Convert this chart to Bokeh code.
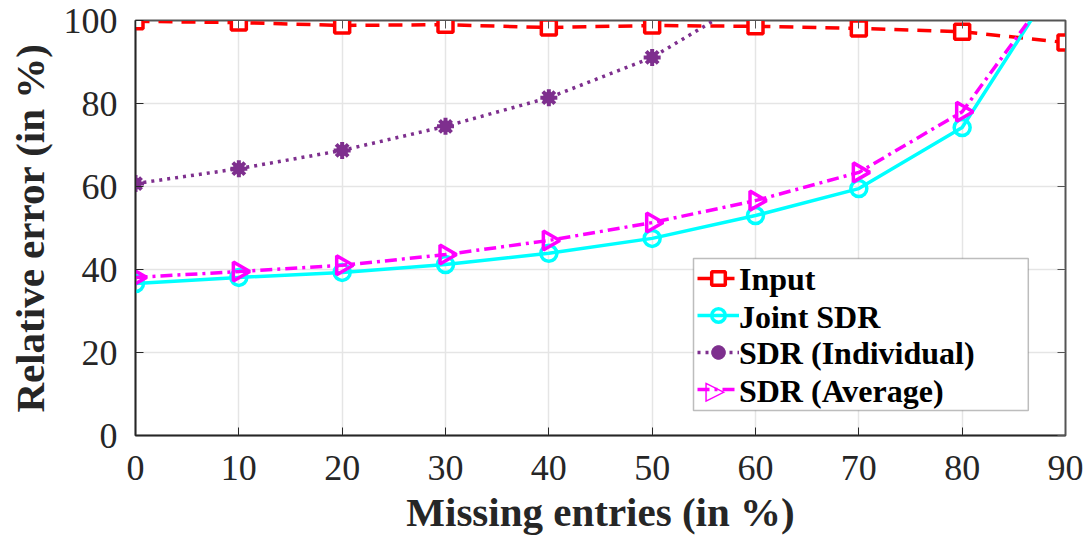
import numpy as np
from bokeh.plotting import figure
from bokeh.models import LinearAxis, Range1d, FixedTicker, Legend, LegendItem, BoxAnnotation
from bokeh.core.properties import value
from bokeh.embed import file_html
from bokeh.resources import INLINE

missing = [0, 10, 20, 30, 40, 50, 60, 70, 80, 90]
input_err = [99.8, 99.5, 98.8, 99.0, 98.3, 98.8, 98.6, 98.1, 97.3, 94.7]
joint_sdr = [36.6, 38.1, 39.3, 41.2, 43.9, 47.5, 53.0, 59.5, 74.2, 113.0]
sdr_ind_x = [0, 10, 20, 30, 40, 50, 60]
sdr_ind = [60.7, 64.3, 68.7, 74.5, 81.4, 91.1, 106.0]
sdr_avg = [38.1, 39.5, 41.0, 43.6, 47.0, 51.3, 56.6, 63.4, 78.0, 112.0]
series_names = ["Input", "Joint SDR", "SDR (Individual)", "SDR (Average)"]

xticks = [0, 10, 20, 30, 40, 50, 60, 70, 80, 90]
yticks = [0, 20, 40, 60, 80, 100]

FONT = "Liberation Serif"

p = figure(width=1083, height=539, output_backend="svg", toolbar_location=None,
           x_range=Range1d(0, 90), y_range=Range1d(0, 100),
           min_border_left=135, min_border_right=18, min_border_top=20, min_border_bottom=104)
p.outline_line_color = "#555555"
p.outline_line_width = 2
p.background_fill_color = "white"
p.border_fill_color = "white"

for ax, ticks in ((p.xaxis[0], xticks), (p.yaxis[0], yticks)):
    ax.ticker = FixedTicker(ticks=ticks)
    ax.major_tick_in = 8
    ax.major_tick_out = 0
    ax.minor_tick_in = 0
    ax.minor_tick_out = 0
    ax.axis_line_color = "#262626"
    ax.axis_line_width = 1.5
    ax.major_tick_line_color = "#262626"
    ax.major_label_text_font = FONT
    ax.major_label_text_font_size = "36px"
    ax.major_label_text_color = "#262626"
    ax.axis_label_text_font = FONT
    ax.axis_label_text_font_size = "41px"
    ax.axis_label_text_font_style = "bold"
    ax.axis_label_text_color = "#262626"

p.xaxis.axis_label = "Missing entries (in %)"
p.yaxis.axis_label = "Relative error (in %)"
p.xaxis.major_label_standoff = 20
p.yaxis.major_label_standoff = 18
p.xaxis.axis_label_standoff = 6
p.yaxis.axis_label_standoff = 8

for loc, ticks in (("right", yticks), ("above", xticks)):
    a = LinearAxis(ticker=FixedTicker(ticks=ticks), major_label_text_font_size="0px",
                   major_tick_in=8, major_tick_out=0, minor_tick_in=0, minor_tick_out=0,
                   axis_line_color="#555555", major_tick_line_color="#555555",
                   major_label_standoff=0)
    p.add_layout(a, loc)

p.xgrid.ticker = FixedTicker(ticks=xticks)
p.ygrid.ticker = FixedTicker(ticks=yticks)
p.xgrid.grid_line_color = "#e5e5e5"
p.ygrid.grid_line_color = "#e5e5e5"
p.xgrid.grid_line_width = 1.5
p.ygrid.grid_line_width = 1.5

# legend box (white, outlined) drawn under the entries, in data units
p.add_layout(BoxAnnotation(left=54.0, right=86.4, bottom=6.0, top=42.65,
                           fill_color="white", fill_alpha=1,
                           line_color="#262626", line_width=1.5, level="underlay"))

items = []

r1 = p.line(missing, input_err, line_color="#ff0000", line_width=3.5, line_dash="14 9")
m1 = p.scatter(missing, input_err, marker="square", size=15, fill_color="white",
               line_color="#ff0000", line_width=3.5)
items.append(LegendItem(label=" ", renderers=[r1, m1]))

r2 = p.line(missing, joint_sdr, line_color="#00ffff", line_width=3.5)
m2 = p.scatter(missing, joint_sdr, marker="circle", size=16, fill_color="white", fill_alpha=0,
               line_color="#00ffff", line_width=3.5)
items.append(LegendItem(label="  ", renderers=[r2, m2]))

r3 = p.line(sdr_ind_x, sdr_ind, line_color="#7e2f8e", line_width=3.5, line_dash="3 5")
m3 = p.scatter(sdr_ind_x, sdr_ind, marker="asterisk", size=17,
               line_color="#7e2f8e", line_width=4)
m3b = p.scatter(sdr_ind_x, sdr_ind, marker="circle", size=11,
                fill_color="#7e2f8e", line_color="#7e2f8e")
items.append(LegendItem(label="   ", renderers=[r3, m3, m3b]))

r4 = p.line(missing, sdr_avg, line_color="#ff00ff", line_width=3.5, line_dash="12 5 3 5")
m4 = p.scatter(missing, sdr_avg, marker="triangle", size=19, angle=-np.pi / 2,
               fill_color="white", fill_alpha=0, line_color="#ff00ff", line_width=3.5)
items.append(LegendItem(label="    ", renderers=[r4]))

legend = Legend(items=items, location=(558, 25),
                label_text_font_size="31px", label_width=281,
                border_line_alpha=0, background_fill_alpha=0,
                glyph_width=42, glyph_height=34, label_height=34, spacing=3,
                padding=4, margin=0, label_standoff=4)
p.add_layout(legend)

# legend texts (serif bold) as text glyphs on the glyph layer, rows in data units
row_y = [37.6, 28.6, 19.8, 10.8]
p.text(x=[58.4] * 4, y=row_y, text=series_names,
       text_font=value(FONT), text_font_style="bold", text_font_size="32px",
       text_color="black", text_baseline="middle", text_align="left")
p.text(x=[56.1], y=[10.9], text=["\u25b7"],
       text_font=value("DejaVu Sans"), text_font_style="bold", text_font_size="26px",
       text_color="#ff00ff", text_baseline="middle", text_align="center")

open("out.html", "w").write(file_html(p, INLINE))
